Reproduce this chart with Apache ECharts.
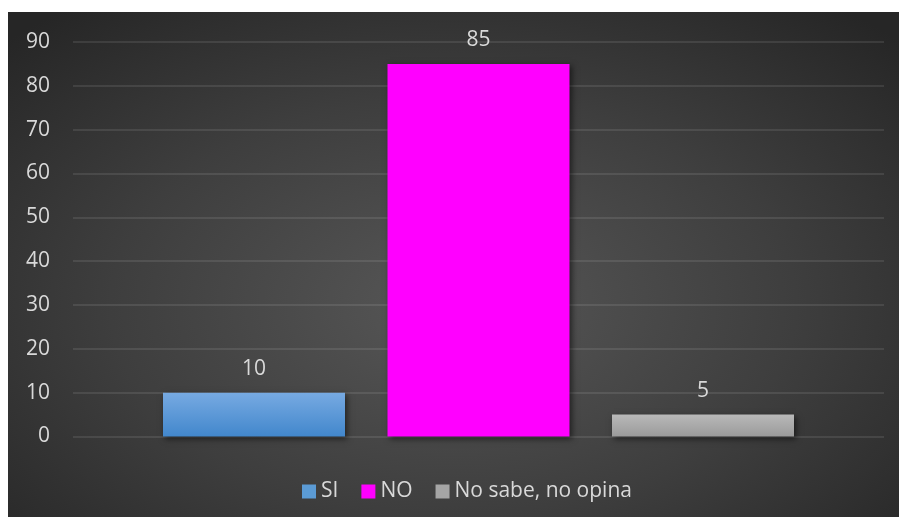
<!DOCTYPE html>
<html>
<head>
<meta charset="utf-8">
<script src="https://cdn.jsdelivr.net/npm/echarts@6/dist/echarts.min.js"></script>
<style>
html, body { margin: 0; padding: 0; background: #fff; }
#chart {
    position: absolute; left: 8px; top: 12px; width: 891px; height: 505px;
    background: radial-gradient(ellipse 70% 75% at 50% 58%, #575757 0%, #3e3e3e 55%, #262626 100%);
}
</style>
</head>
<body>
<div id="chart"></div>
<script>
var categories = ['SI', 'NO', 'No sabe, no opina'];
var values = [10, 85, 5];
var yTicks = [0, 10, 20, 30, 40, 50, 60, 70, 80, 90];

var barColors = [
    new echarts.graphic.LinearGradient(0, 0, 0, 1, [
        { offset: 0, color: '#77aae2' }, { offset: 1, color: '#4287cc' }
    ]),
    '#ff00ff',
    new echarts.graphic.LinearGradient(0, 0, 0, 1, [
        { offset: 0, color: '#b9b9b9' }, { offset: 1, color: '#9a9a9a' }
    ])
];
var legendColors = ['#5b9bd5', '#ff00ff', '#a5a5a5'];
var textColor = '#d9d9d9';
var fontFam = '"Open Sans", sans-serif';

var chart = echarts.init(document.getElementById('chart'), null, { renderer: 'canvas' });

var series = [];
for (var i = 0; i < categories.length; i++) {
    var d = [];
    for (var j = 0; j < categories.length; j++) d.push(i === j ? values[i] : '-');
    series.push({
        name: categories[i],
        type: 'bar',
        xAxisIndex: 1,
        yAxisIndex: 1,
        stack: 'all',
        barWidth: 182,
        color: legendColors[i],
        itemStyle: {
            color: barColors[i],
            shadowColor: 'rgba(0,0,0,0.55)',
            shadowBlur: 6,
            shadowOffsetX: 2,
            shadowOffsetY: 2
        },
        label: {
            show: true,
            position: 'top',
            distance: 13,
            color: textColor,
            fontSize: 21,
            fontFamily: fontFam
        },
        data: d
    });
}

var option = {
    backgroundColor: 'rgba(0,0,0,0)',
    animation: false,
    grid: [
        { left: 65, right: 15, top: 30, bottom: 80.5 },
        { left: 133.75, right: 83.75, top: 30, bottom: 80.5 }
    ],
    legend: {
        left: 289,
        top: 464,
        itemWidth: 14,
        itemHeight: 14,
        itemGap: 23,
        itemTextGap: 5,
        icon: 'rect',
        textStyle: { color: textColor, fontSize: 21, fontFamily: fontFam },
        data: categories.map(function (c, k) {
            return { name: c, itemStyle: { color: legendColors[k] } };
        })
    },
    xAxis: [
        { gridIndex: 0, type: 'category', data: [''], show: false },
        {
            gridIndex: 1, type: 'category', data: categories,
            axisLine: { show: false }, axisTick: { show: false }, axisLabel: { show: false }
        }
    ],
    yAxis: [
        {
            gridIndex: 0, type: 'value',
            min: yTicks[0], max: yTicks[yTicks.length - 1], interval: 10,
            axisLine: { show: false }, axisTick: { show: false },
            axisLabel: { color: textColor, fontSize: 21, fontFamily: fontFam, margin: 23 },
            splitLine: { lineStyle: { color: 'rgba(255,255,255,0.13)', width: 1.5 } }
        },
        {
            gridIndex: 1, type: 'value',
            min: yTicks[0], max: yTicks[yTicks.length - 1], interval: 10,
            show: false, splitLine: { show: false }
        }
    ],
    series: series
};
chart.setOption(option);
</script>
</body>
</html>
